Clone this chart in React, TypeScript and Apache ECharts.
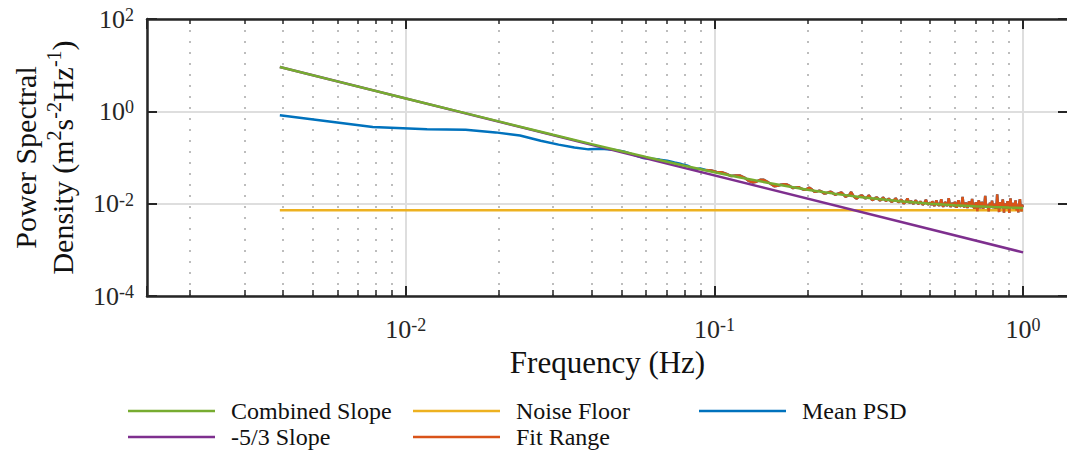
import React, { useEffect, useRef } from "react";
import * as echarts from "echarts";

// Spectral bins are spaced by the Welch segment resolution.
const FREQ_STEP = 1 / 256; // Hz

// Mean power spectral density, one value per bin (m^2 s^-2 Hz^-1).
const MEAN_PSD = [
  0.82, 0.46, 0.41, 0.40, 0.35, 0.30, 0.23, 0.19, 0.165, 0.15,
  0.155, 0.148, 0.135, 0.115, 0.098, 0.094, 0.090, 0.085, 0.078, 0.072,
  0.066, 0.056, 0.058,
  0.0538, 0.0522, 0.0484, 0.0482, 0.0441, 0.0396, 0.0409,
  0.0406, 0.0368, 0.0313, 0.0288, 0.0299, 0.0328, 0.0329, 0.0298, 0.0267, 0.0239,
  0.0243, 0.0257, 0.0262, 0.0259, 0.0239, 0.0217, 0.0223, 0.0228, 0.0210, 0.0200,
  0.0208, 0.0222, 0.0202, 0.0181, 0.0184, 0.0192, 0.0182, 0.0166, 0.0169, 0.0176,
  0.0181, 0.0169, 0.0156, 0.0163, 0.0169, 0.0175, 0.0159, 0.0141, 0.0147, 0.0155,
  0.0179, 0.0151, 0.0136, 0.0128, 0.0140, 0.0149, 0.0151, 0.0139, 0.0129, 0.0138,
  0.0152, 0.0135, 0.0119, 0.0124, 0.0133, 0.0137, 0.0126, 0.0117, 0.0122, 0.0137,
  0.0126, 0.0115, 0.0121, 0.0129, 0.0118, 0.0109, 0.0114, 0.0122, 0.0131, 0.0117,
  0.0107, 0.0113, 0.0122, 0.0115, 0.0100, 0.0107, 0.0114, 0.0129, 0.0110, 0.0104,
  0.0114, 0.0107, 0.0099, 0.0110, 0.0118, 0.0108, 0.0099, 0.0103, 0.0111, 0.0104,
  0.0095, 0.0099, 0.0107, 0.0122, 0.0104, 0.0095, 0.0100, 0.0106,
  0.0093, 0.0112, 0.0101, 0.0089, 0.0098, 0.0118, 0.0103, 0.0094,
  0.0091, 0.0099, 0.0124, 0.0097, 0.0086, 0.0095, 0.0108, 0.0102,
  0.0089, 0.0097, 0.0131, 0.0100, 0.0085, 0.0093, 0.0104, 0.0097,
  0.0088, 0.0110, 0.0095, 0.0082, 0.0094, 0.0119, 0.0098, 0.0090,
  0.0087, 0.0101, 0.0140, 0.0096, 0.0083, 0.0092, 0.0105, 0.0094,
  0.0081, 0.0090, 0.0112, 0.0098, 0.0086, 0.0094, 0.0126, 0.0095,
  0.0084, 0.0079, 0.0093, 0.0107, 0.0092, 0.0069, 0.0099, 0.0118,
  0.0094, 0.0080, 0.0088, 0.0109, 0.0096, 0.0078, 0.0091, 0.0102,
  0.0148, 0.0097, 0.0082, 0.0089, 0.0094, 0.0068, 0.0090, 0.0105,
  0.0093, 0.0083, 0.0116, 0.0095, 0.0080, 0.0088, 0.0099, 0.0091,
  0.0078, 0.0092, 0.0160, 0.0102, 0.0085, 0.0066, 0.0093, 0.0107,
  0.0090, 0.0081, 0.0097, 0.0124, 0.0093, 0.0064, 0.0088, 0.0101,
  0.0094, 0.0079, 0.0086, 0.0113, 0.0097, 0.0082, 0.0063, 0.0092,
  0.0130, 0.0095, 0.0083, 0.0089, 0.0104, 0.0090, 0.0077, 0.0086,
  0.0098, 0.0118, 0.0091, 0.0071, 0.0087, 0.0096, 0.0065, 0.0093,
  0.0108, 0.0125, 0.0092, 0.0083, 0.0068, 0.0095, 0.0087, 0.0084,
];

// Lower edge of the band used for the slope fit (Hz).
const FIT_START_HZ = 0.09;

// Instrument noise floor (m^2 s^-2 Hz^-1).
const NOISE_FLOOR = 0.0072;

// Kolmogorov -5/3 reference line, given by its end points.
const SLOPE_FREQ = [0.00390625, 1.0];
const SLOPE_PSD = [9.1, 0.00088];

// Fitted model: -5/3 slope plus noise floor.
const COMBINED_FREQ = [
  0.00390625, 0.006, 0.01, 0.015, 0.02, 0.03, 0.04, 0.05, 0.06, 0.08, 0.1, 0.12,
  0.15, 0.2, 0.25, 0.3, 0.4, 0.5, 0.6, 0.7, 0.8, 0.9, 1.0,
];
const COMBINED_PSD = [
  9.1, 4.45, 1.9, 0.972, 0.605, 0.311, 0.195, 0.137, 0.103, 0.0664, 0.048, 0.0374,
  0.028, 0.0201, 0.0161, 0.01375, 0.01125, 0.01, 0.00926, 0.0088, 0.00848, 0.00825, 0.00808,
];

// Axis ranges and minor tick positions.
const X_MIN = 0.00145;
const X_MAX = 1.398;
const Y_MIN = 1e-4;
const Y_MAX = 1e2;
const MINOR_X_TICKS = [
  0.002, 0.003, 0.004, 0.005, 0.006, 0.007, 0.008, 0.009,
  0.02, 0.03, 0.04, 0.05, 0.06, 0.07, 0.08, 0.09,
  0.2, 0.3, 0.4, 0.5, 0.6, 0.7, 0.8, 0.9,
];

const FONT = "'Liberation Serif', 'Times New Roman', serif";
const INK = "#262626";
const TEXT = "#111111";

const COLORS = {
  mean: "#0072BD",
  fit: "#D95319",
  noise: "#EDB120",
  slope: "#7E2F8E",
  combined: "#77AC30",
};

const freqOf = (i: number) => (i + 1) * FREQ_STEP;
const psdPoints = MEAN_PSD.map((v, i) => [freqOf(i), v]);
const fitPoints = psdPoints.filter((p) => p[0] >= FIT_START_HZ);
const noisePoints = [
  [freqOf(0), NOISE_FLOOR],
  [freqOf(MEAN_PSD.length - 1), NOISE_FLOOR],
];
const slopePoints = SLOPE_FREQ.map((f, i) => [f, SLOPE_PSD[i]]);
const combinedPoints = COMBINED_FREQ.map((f, i) => [f, COMBINED_PSD[i]]);

const powerLabel = (v: number) => {
  const e = Math.log10(v);
  const r = Math.round(e);
  if (Math.abs(e - r) > 1e-6) return "";
  return `{b|10}{s|${r}}`;
};

const tickRich = {
  b: { fontSize: 26, fontFamily: FONT, fontStyle: "normal", fontWeight: "normal", color: INK },
  s: {
    fontSize: 18,
    fontFamily: FONT,
    fontStyle: "normal",
    fontWeight: "normal",
    color: INK,
    verticalAlign: "top",
  },
};

const axisLine = { show: true, onZero: false, lineStyle: { color: INK, width: 2.5 } };

const makeXAxis = (extra: any) => ({
  type: "log",
  logBase: 10,
  min: X_MIN,
  max: X_MAX,
  gridIndex: 0,
  axisLine: { show: false },
  axisLabel: { show: false },
  splitLine: { show: false },
  ...extra,
});

const makeYAxis = (extra: any) => ({
  type: "log",
  logBase: 100,
  min: Y_MIN,
  max: Y_MAX,
  gridIndex: 0,
  axisLine: { show: false },
  axisLabel: { show: false },
  splitLine: { show: false },
  ...extra,
});

const legendText = {
  fontFamily: FONT,
  fontSize: 24,
  color: TEXT,
  padding: [0, 0, 0, 11],
};

const LEGEND_ROW_1 = 399;
const LEGEND_ROW_2 = 425;
const legendSlots = [
  { name: "Combined Slope", left: 128, top: LEGEND_ROW_1 },
  { name: "Noise Floor", left: 413, top: LEGEND_ROW_1 },
  { name: "Mean PSD", left: 699, top: LEGEND_ROW_1 },
  { name: "-5/3 Slope", left: 128, top: LEGEND_ROW_2 },
  { name: "Fit Range", left: 413, top: LEGEND_ROW_2 },
];

const lineSeries = (name: string, data: number[][], color: string) => ({
  name,
  type: "line",
  data,
  color,
  symbol: "none",
  showSymbol: false,
  lineStyle: { width: 2.5, color },
  xAxisIndex: 0,
  yAxisIndex: 0,
});

const tickLabel = (margin: number) => ({
  show: true,
  margin,
  fontFamily: FONT,
  fontSize: 26,
  color: INK,
  formatter: powerLabel,
  rich: tickRich,
  showMinLabel: true,
  showMaxLabel: true,
});

const option: any = {
  animation: false,
  backgroundColor: "#ffffff",
  textStyle: { fontFamily: FONT },
  grid: {
    left: 147,
    top: 19,
    width: 921,
    height: 277,
    containLabel: false,
    outerBoundsMode: "none",
  },
  legend: legendSlots.map((s) => ({
    data: [{ name: s.name, icon: "rect" }],
    left: s.left,
    top: s.top,
    padding: 0,
    itemWidth: 87,
    itemHeight: 2.5,
    selectedMode: false,
    textStyle: legendText,
  })),
  xAxis: [
    makeXAxis({
      position: "bottom",
      axisLine,
      axisTick: { show: true, inside: true, length: 10, lineStyle: { color: INK, width: 2 } },
      axisLabel: tickLabel(20),
      splitLine: { show: true, lineStyle: { color: "#dedede", width: 2 } },
      name: "Frequency (Hz)",
      nameLocation: "middle",
      nameGap: 51,
      nameMoveOverlap: false,
      nameTextStyle: { fontFamily: FONT, fontSize: 31, color: TEXT },
    }),
    makeXAxis({
      position: "top",
      axisLine,
      axisTick: { show: true, inside: true, length: 10, lineStyle: { color: INK, width: 2 } },
    }),
    makeXAxis({
      position: "bottom",
      axisTick: {
        show: true,
        inside: true,
        length: 6,
        customValues: MINOR_X_TICKS,
        lineStyle: { color: INK, width: 1.5 },
      },
      splitLine: {
        show: true,
        lineStyle: { color: "#bdbdbd", width: 2, type: [2, 9] },
      },
    }),
    makeXAxis({
      position: "top",
      axisTick: {
        show: true,
        inside: true,
        length: 5,
        customValues: MINOR_X_TICKS,
        lineStyle: { color: INK, width: 1.5 },
      },
    }),
  ],
  yAxis: [
    makeYAxis({
      position: "left",
      axisLine,
      axisTick: { show: true, inside: true, length: 10, lineStyle: { color: INK, width: 2 } },
      axisLabel: tickLabel(13),
      splitLine: { show: true, lineStyle: { color: "#dedede", width: 2 } },
      name: "{t|Power Spectral}\n{t|Density (m}{u|2}{t|s}{u|-2}{t|Hz}{u|-1}{t|)}",
      nameLocation: "middle",
      nameRotate: 90,
      nameGap: 66,
      nameMoveOverlap: false,
      nameTextStyle: {
        fontFamily: FONT,
        rich: {
          t: { fontFamily: FONT, fontSize: 30, color: TEXT, lineHeight: 37 },
          u: { fontFamily: FONT, fontSize: 20, color: TEXT, verticalAlign: "top" },
        },
      },
    }),
    makeYAxis({
      position: "right",
      axisLine,
      axisTick: { show: true, inside: true, length: 10, lineStyle: { color: INK, width: 2 } },
    }),
  ],
  series: [
    lineSeries("Mean PSD", psdPoints, COLORS.mean),
    lineSeries("Noise Floor", noisePoints, COLORS.noise),
    lineSeries("Fit Range", fitPoints, COLORS.fit),
    lineSeries("-5/3 Slope", slopePoints, COLORS.slope),
    lineSeries("Combined Slope", combinedPoints, COLORS.combined),
  ],
};

export default function App() {
  const ref = useRef<HTMLDivElement>(null);
  useEffect(() => {
    if (!ref.current) return;
    const chart = echarts.init(ref.current, null, { renderer: "svg" });
    chart.setOption(option);
    return () => chart.dispose();
  }, []);
  return (
    <div
      ref={ref}
      style={{
        position: "absolute",
        left: 0,
        top: 0,
        width: 1067,
        height: 454,
        background: "#ffffff",
      }}
    />
  );
}
